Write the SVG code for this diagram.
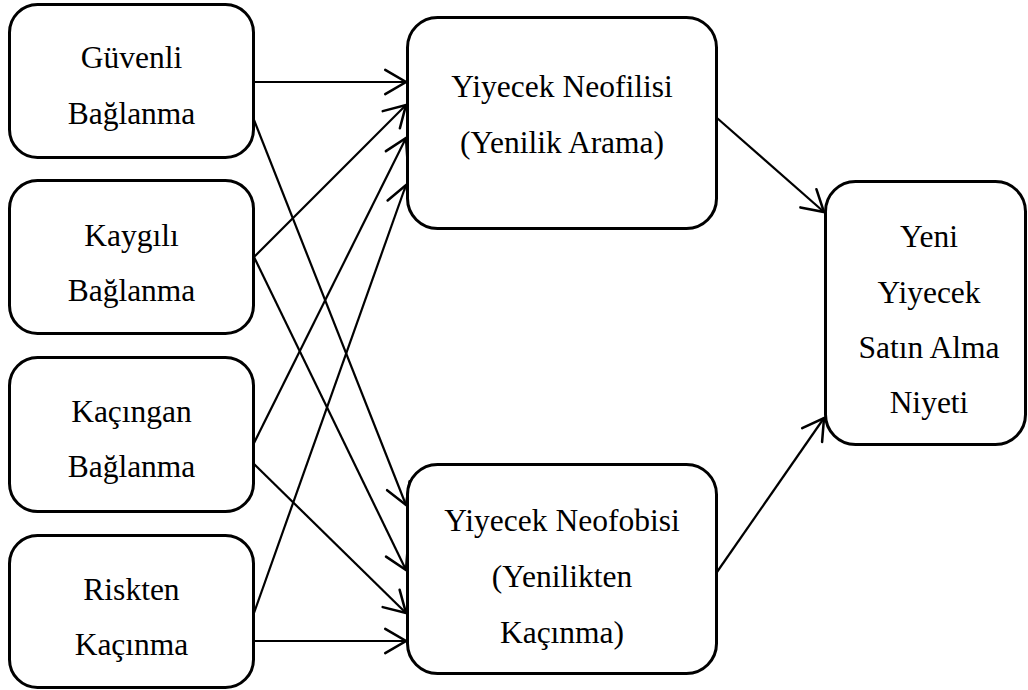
<svg xmlns="http://www.w3.org/2000/svg" width="1028" height="690" viewBox="0 0 1028 690">
<defs>
<style>
.box{fill:#fff;stroke:#000;stroke-width:3}
.t{font-family:'Liberation Serif','Times New Roman',serif;font-size:31.5px;fill:#000;text-anchor:middle}
.c{stroke:#000;stroke-width:2.2;fill:none;marker-end:url(#ah)}
</style>
<marker id="ah" markerUnits="userSpaceOnUse" markerWidth="30" markerHeight="30" viewBox="-22 -13 26 26" refX="0" refY="0" orient="auto">
<path d="M-18,-10.5 L0,0 L-18,10.5" fill="none" stroke="#000" stroke-width="2.2" stroke-linecap="round" stroke-linejoin="miter"/>
</marker>
</defs>
<rect width="1028" height="690" fill="#fff"/>
<g id="connectors">
<line class="c" x1="254" y1="82" x2="406" y2="82"/>
<line class="c" x1="254" y1="120" x2="406" y2="505"/>
<line class="c" x1="254" y1="257" x2="406" y2="105"/>
<line class="c" x1="254" y1="257" x2="406" y2="570"/>
<line class="c" x1="254" y1="443" x2="406" y2="138"/>
<line class="c" x1="254" y1="464" x2="406" y2="613"/>
<line class="c" x1="254" y1="613" x2="406" y2="185"/>
<line class="c" x1="254" y1="641" x2="406" y2="641"/>
<line class="c" x1="717" y1="118" x2="824" y2="212"/>
<line class="c" x1="717" y1="572" x2="824" y2="418"/>
</g>
<g id="n_guvenli">
<rect class="box" x="9.5" y="4.5" width="244" height="153" rx="28"/>
<text class="t" x="131.5" y="68">Güvenli</text>
<text class="t" x="131.5" y="124">Bağlanma</text>
</g>
<g id="n_kaygili">
<rect class="box" x="9.5" y="180.5" width="244" height="153" rx="28"/>
<text class="t" x="131.5" y="246">Kaygılı</text>
<text class="t" x="131.5" y="301">Bağlanma</text>
</g>
<g id="n_kacingan">
<rect class="box" x="9.5" y="357.5" width="244" height="154" rx="28"/>
<text class="t" x="131.5" y="422">Kaçıngan</text>
<text class="t" x="131.5" y="477">Bağlanma</text>
</g>
<g id="n_riskten">
<rect class="box" x="9.5" y="535.5" width="244" height="152" rx="28"/>
<text class="t" x="131.5" y="600">Riskten</text>
<text class="t" x="131.5" y="655">Kaçınma</text>
</g>
<g id="n_neofili">
<rect class="box" x="407.5" y="17.5" width="309" height="211" rx="30"/>
<text class="t" x="562" y="97">Yiyecek Neofilisi</text>
<text class="t" x="562" y="153">(Yenilik Arama)</text>
</g>
<g id="n_neofobi">
<rect class="box" x="407.5" y="464.5" width="309" height="209" rx="30"/>
<text class="t" x="562" y="531">Yiyecek Neofobisi</text>
<text class="t" x="562" y="587">(Yenilikten</text>
<text class="t" x="562" y="643">Kaçınma)</text>
</g>
<g id="n_niyet">
<rect class="box" x="825.5" y="181.5" width="200" height="263" rx="30"/>
<text class="t" x="929" y="247">Yeni</text>
<text class="t" x="929" y="303">Yiyecek</text>
<text class="t" x="929" y="358">Satın Alma</text>
<text class="t" x="929" y="413">Niyeti</text>
</g>
</svg>
